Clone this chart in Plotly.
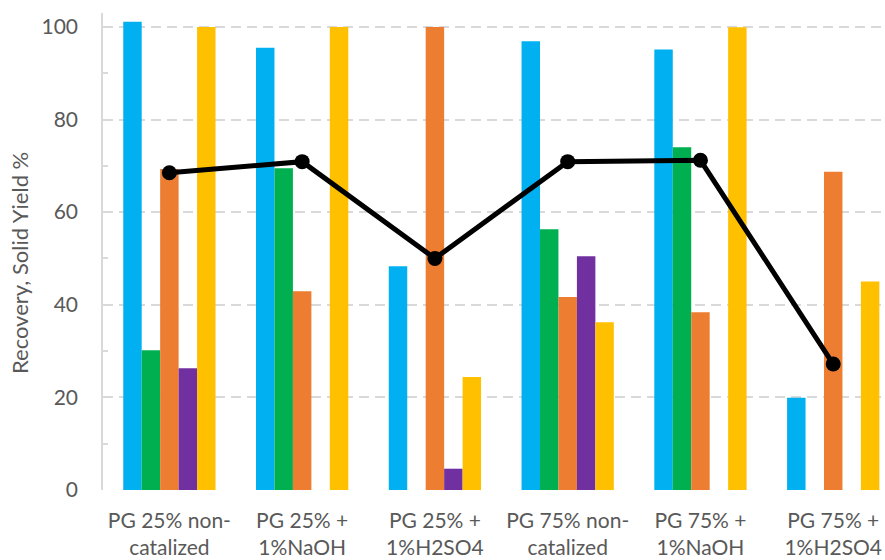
import plotly.graph_objects as go

# Categories and measured values
categories = [
    "PG 25% non-<br>catalized",
    "PG 25% +<br>1%NaOH",
    "PG 25% +<br>1%H2SO4",
    "PG 75% non-<br>catalized",
    "PG 75% +<br>1%NaOH",
    "PG 75% +<br>1%H2SO4",
]
series_a = [101.1, 95.5, 48.3, 96.9, 95.1, 19.9]
series_b = [30.2, 69.5, 0, 56.3, 74.0, 0]
series_c = [69.3, 42.9, 100.0, 41.7, 38.4, 68.7]
series_d = [26.3, 0, 4.6, 50.5, 0, 0]
series_e = [100.0, 100.0, 24.4, 36.2, 99.9, 45.0]
solid_yield = [68.5, 70.9, 50.0, 70.9, 71.2, 27.2]

bar_series = [
    ("Series A", series_a, "#00B0F0"),
    ("Series B", series_b, "#00B050"),
    ("Series C", series_c, "#ED7D31"),
    ("Series D", series_d, "#7030A0"),
    ("Series E", series_e, "#FFC000"),
]

FONT = "Lato"
TEXT = "#595959"
GRID = "#D9D9D9"
SIZE = 21

fig = go.Figure()
for name, vals, color in bar_series:
    fig.add_trace(go.Bar(
        x=categories, y=vals, name=name,
        marker=dict(color=color, line=dict(width=0)),
    ))

fig.add_trace(go.Scatter(
    x=categories, y=solid_yield, name="Solid yield",
    mode="lines+markers",
    line=dict(color="black", width=5),
    marker=dict(color="black", size=15),
))

fig.update_layout(
    width=885, height=560,
    margin=dict(l=103, r=0, t=13, b=70),
    paper_bgcolor="white", plot_bgcolor="white",
    barmode="group", bargap=0.305, bargroupgap=0,
    showlegend=False,
    font=dict(family=FONT, size=SIZE, color=TEXT),
)

fig.update_xaxes(
    type="category",
    range=[-0.5, 5.39],
    showgrid=False, showline=False, zeroline=False,
    ticks="", ticklabelstandoff=16,
    tickfont=dict(family=FONT, size=SIZE, color=TEXT),
)

fig.update_yaxes(
    range=[0, 103],
    tickvals=[0, 20, 40, 60, 80, 100],
    showgrid=True, gridcolor=GRID, gridwidth=1.5, griddash="10px,6px",
    zeroline=False,
    showline=True, linecolor=GRID, linewidth=1.5,
    ticks="", ticklabelstandoff=19,
    minor=dict(tickvals=[10, 30, 50, 70, 90], ticks="inside", ticklen=5,
               tickcolor=GRID, tickwidth=1.5, showgrid=False),
    tickfont=dict(family=FONT, size=SIZE, color=TEXT),
)

# Vertical axis title placed beside the tick labels
fig.add_annotation(
    text="Recovery, Solid Yield %",
    xref="paper", yref="paper", x=-0.106, y=0.476,
    xanchor="center", yanchor="middle", textangle=-90,
    showarrow=False,
    font=dict(family=FONT, size=22, color=TEXT),
)

fig.write_html("out.html")
